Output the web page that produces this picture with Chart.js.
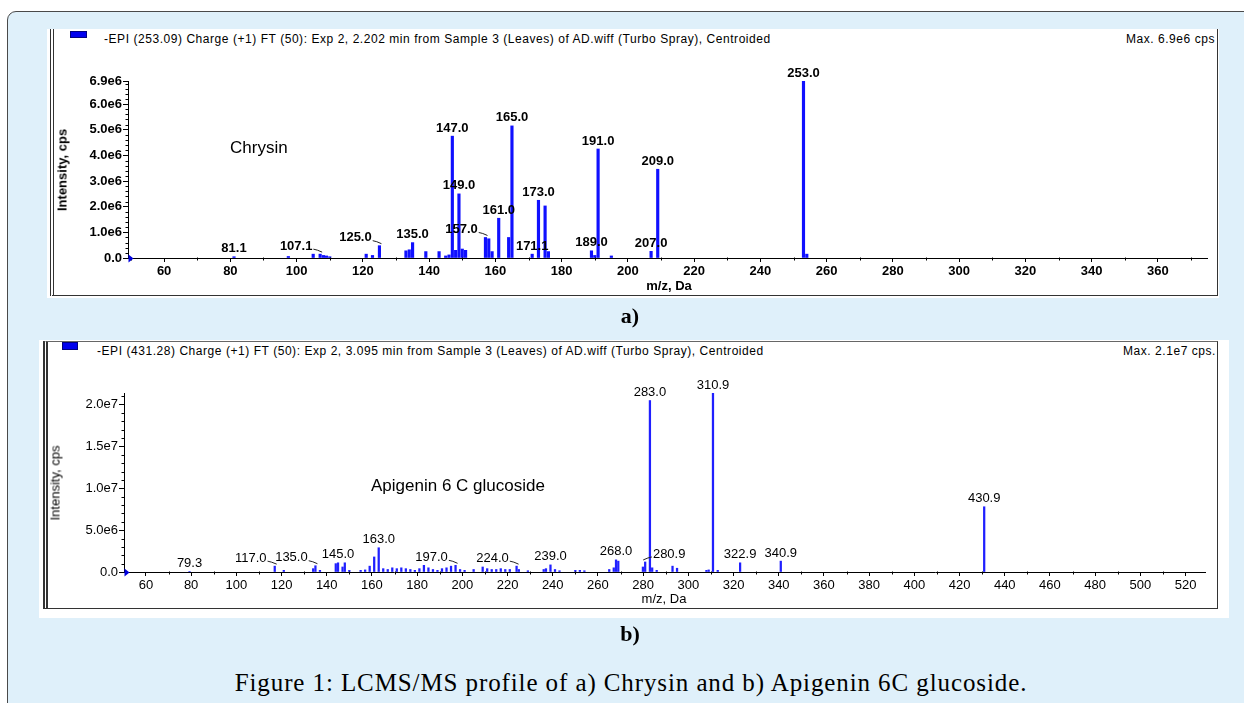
<!DOCTYPE html>
<html>
<head>
<meta charset="utf-8">
<script src="https://cdn.jsdelivr.net/npm/chart.js@4.4.0/dist/chart.umd.min.js"></script>
<style>
html, body { margin: 0; padding: 0; background: #fff; }
body { width: 1244px; height: 703px; position: relative; overflow: hidden; font-family: "Liberation Sans", Arial, sans-serif; color: #000; }
#page { position: absolute; left: 7px; top: 11px; width: 1260px; height: 720px; background: #dff0fa; border: 1.5px solid #4a4a4a; border-radius: 9px; }
.white { position: absolute; background: #fff; }
.frame { position: absolute; box-sizing: border-box; }
#frameA { left: 50px; top: 29px; width: 1168px; height: 267px; border-left: 4px double #333; border-right: 1px solid #333; border-bottom: 1px solid #333; }
#frameB { left: 43px; top: 341px; width: 1175px; height: 268px; border-left: 5px double #333; border-top: 1px solid #666; border-right: 1px solid #333; border-bottom: 1.5px solid #333; }
canvas { position: absolute; }
.txt { position: absolute; white-space: nowrap; }
.hdr { font-size: 12px; line-height: 14px; letter-spacing: 0.55px; }
.sq { position: absolute; box-sizing: border-box; background: #0000ee; border: 1px solid #000080; }
.big { font-size: 17px; line-height: 20px; }
.ax { font-size: 13px; line-height: 15px; transform: translate(-50%, -50%); }
.rot { font-size: 13px; line-height: 15px; transform: translate(-50%, -50%) rotate(-90deg); }
.b { font-weight: bold; }
.serif { font-family: "Liberation Serif", "Times New Roman", serif; transform: translate(-50%, -50%); }
</style>
</head>
<body>
<div id="page"></div>

<!-- panel a -->
<div class="white" style="left:47px;top:29px;width:1172px;height:269px;"></div>
<div class="frame" id="frameA"></div>
<div class="sq" style="left:70px;top:31px;width:17px;height:7px;"></div>
<div class="txt hdr" style="left:104px;top:32px;">-EPI (253.09) Charge (+1) FT (50): Exp 2, 2.202 min from Sample 3 (Leaves) of AD.wiff (Turbo Spray), Centroided</div>
<div class="txt hdr" style="right:29px;top:32px;">Max. 6.9e6 cps</div>
<canvas id="chartA" width="1160" height="250" style="left:56px;top:44px;"></canvas>
<div class="txt big" style="left:230px;top:138px;">Chrysin</div>
<div class="txt rot b" style="left:62px;top:170px;">Intensity, cps</div>
<div class="txt ax b" style="left:669px;top:285px;">m/z, Da</div>
<div class="txt serif" style="left:630px;top:316px;font-size:22px;font-weight:bold;">a)</div>

<!-- panel b -->
<div class="white" style="left:39px;top:340px;width:1190px;height:278px;"></div>
<div class="frame" id="frameB"></div>
<div class="sq" style="left:62px;top:342px;width:16px;height:8px;"></div>
<div class="txt hdr" style="left:97px;top:344px;">-EPI (431.28) Charge (+1) FT (50): Exp 2, 3.095 min from Sample 3 (Leaves) of AD.wiff (Turbo Spray), Centroided</div>
<div class="txt hdr" style="right:28px;top:344px;">Max. 2.1e7 cps.</div>
<canvas id="chartB" width="1166" height="251" style="left:49px;top:356px;"></canvas>
<div class="txt big" style="left:371px;top:476px;">Apigenin 6 C glucoside</div>
<div class="txt rot" style="left:55px;top:483px;">Intensity, cps</div>
<div class="txt ax" style="left:664px;top:598px;">m/z, Da</div>
<div class="txt serif" style="left:630px;top:634px;font-size:22px;font-weight:bold;">b)</div>

<div class="txt serif" style="left:631px;top:683px;font-size:25px;letter-spacing:0.9px;">Figure 1: LCMS/MS profile of a) Chrysin and b) Apigenin 6C glucoside.</div>

<script>
// ------------------------------------------------------------
// Data : a) Chrysin
// ------------------------------------------------------------
const mzA = [81.1, 97.5, 105.0, 107.1, 108.1, 109.0, 110.0, 121.0, 122.9, 125.0,
             133.0, 134.0, 135.0, 139.0, 143.0, 145.0, 146.0, 147.0, 148.0, 149.0,
             150.0, 151.0, 157.0, 158.0, 159.0, 161.0, 164.0, 165.0, 171.1, 173.0,
             175.0, 176.0, 189.0, 190.0, 191.0, 195.0, 207.0, 209.0, 253.0, 254.0];
const intA = [0.05e6, 0.06e6, 0.15e6, 0.15e6, 0.1e6, 0.08e6, 0.05e6, 0.15e6, 0.1e6, 0.48e6,
              0.28e6, 0.32e6, 0.6e6, 0.25e6, 0.25e6, 0.08e6, 0.12e6, 4.75e6, 0.3e6, 2.5e6,
              0.35e6, 0.3e6, 0.8e6, 0.75e6, 0.25e6, 1.55e6, 0.8e6, 5.15e6, 0.15e6, 2.25e6,
              2.03e6, 0.25e6, 0.28e6, 0.1e6, 4.25e6, 0.08e6, 0.26e6, 3.46e6, 6.9e6, 0.15e6];
const peakLabelsA = ["81.1", "107.1", "125.0", "135.0", "147.0", "149.0", "157.0", "161.0",
                     "165.0", "171.1", "173.0", "189.0", "191.0", "207.0", "209.0", "253.0"];
const xTicksA = [60, 80, 100, 120, 140, 160, 180, 200, 220, 240, 260, 280, 300, 320, 340, 360];
const yTicksA = [0, 1e6, 2e6, 3e6, 4e6, 5e6, 6e6, 6.9e6];

// ------------------------------------------------------------
// Data : b) Apigenin 6 C glucoside
// ------------------------------------------------------------
const mzB = [79.3, 117.0, 121.0, 134.0, 135.0, 137.0, 144.0, 145.0, 147.0, 148.0,
             150.0, 155.0, 157.0, 159.0, 161.0, 163.0, 165.0, 167.0, 169.0, 171.0,
             173.0, 175.0, 177.0, 179.0, 181.0, 183.0, 185.0, 187.0, 189.0, 191.0,
             193.0, 195.0, 197.0, 199.0, 201.0, 205.0, 209.0, 211.0, 213.0, 215.0,
             217.0, 219.0, 221.0, 224.0, 225.0, 229.0, 236.0, 237.0, 239.0, 241.0,
             243.0, 250.0, 252.0, 254.0, 265.0, 267.0, 268.0, 269.0, 279.9, 280.9,
             283.0, 284.0, 286.0, 293.0, 295.0, 308.0, 309.0, 310.9, 313.0, 322.9,
             340.9, 430.9];
const intB = [0.05e6, 0.7e6, 0.2e6, 0.4e6, 0.75e6, 0.2e6, 1.0e6, 1.1e6, 0.6e6, 1.1e6,
              0.2e6, 0.2e6, 0.25e6, 0.7e6, 1.8e6, 2.9e6, 0.4e6, 0.3e6, 0.5e6, 0.4e6,
              0.5e6, 0.4e6, 0.3e6, 0.2e6, 0.4e6, 0.8e6, 0.5e6, 0.3e6, 0.2e6, 0.4e6,
              0.5e6, 0.7e6, 0.8e6, 0.3e6, 0.2e6, 0.3e6, 0.6e6, 0.4e6, 0.3e6, 0.3e6,
              0.4e6, 0.3e6, 0.3e6, 0.7e6, 0.3e6, 0.15e6, 0.3e6, 0.4e6, 0.85e6, 0.3e6,
              0.15e6, 0.2e6, 0.2e6, 0.15e6, 0.3e6, 0.5e6, 1.45e6, 1.3e6, 0.6e6, 1.2e6,
              20.5e6, 0.5e6, 0.2e6, 0.7e6, 0.45e6, 0.2e6, 0.25e6, 21.4e6, 0.2e6, 1.1e6,
              1.3e6, 7.8e6];
const peakLabelsB = ["79.3", "117.0", "135.0", "145.0", "163.0", "197.0", "224.0", "239.0",
                     "268.0", "280.9", "283.0", "310.9", "322.9", "340.9", "430.9"];
const xTicksB = [60, 80, 100, 120, 140, 160, 180, 200, 220, 240, 260, 280, 300, 320, 340,
                 360, 380, 400, 420, 440, 460, 480, 500, 520];
const yTicksB = [0, 5e6, 1e7, 1.5e7, 2e7];

// labels pushed aside with a small leader line (-1 left, +1 right)
const leaderSideA = { "107.1": -1, "125.0": -1, "157.0": -1 };
const leaderSideB = { "117.0": -1, "135.0": -1, "197.0": -1, "224.0": -1, "280.9": 1 };

const FONT = '"Liberation Sans", Arial, sans-serif';

function fmtIntensity(v) {
    if (v === 0) return "0.0";
    const e = Math.floor(Math.log10(v) + 1e-9);
    return (v / Math.pow(10, e)).toFixed(1) + "e" + e;
}

// ------------------------------------------------------------
// Plugin : minor ticks, origin marker, peak labels
// ------------------------------------------------------------
const spectrumPlugin = {
    id: "spectrum",
    afterDatasetsDraw(chart, args, o) {
        const { ctx, scales: { x, y } } = chart;
        const pts = chart.data.datasets[0].data;
        ctx.save();
        ctx.font = o.labelFont;
        ctx.fillStyle = "#000";
        ctx.strokeStyle = "#222";
        ctx.lineWidth = 1;
        ctx.textAlign = "center";
        ctx.textBaseline = "middle";
        o.labels.forEach(lbl => {
            const m = parseFloat(lbl);
            let best = pts[0];
            pts.forEach(p => { if (Math.abs(p.x - m) < Math.abs(best.x - m)) best = p; });
            const bx = x.getPixelForValue(best.x);
            const by = y.getPixelForValue(best.y);
            const side = o.leaders[lbl] || 0;
            const lx = bx + side * 24;
            const ly = by - 8;
            ctx.fillText(lbl, lx, ly);
            if (side) {
                const w = ctx.measureText(lbl).width;
                const sx = lx - side * (w / 2 + 1);
                ctx.beginPath();
                ctx.moveTo(sx, ly + 3);
                ctx.lineTo(sx - side * 4, ly + 4);
                ctx.lineTo(bx - side * 2, by - 2);
                ctx.stroke();
            }
        });
        ctx.restore();
    },
    afterDraw(chart, args, o) {
        const { ctx, scales: { x, y } } = chart;
        const y0 = Math.round(y.getPixelForValue(0)) + 0.5;
        const x0 = Math.round(x.left) + 0.5;
        ctx.save();
        ctx.strokeStyle = "#000";
        ctx.lineWidth = 1;
        // minor x ticks
        const kx0 = Math.ceil(x.min / o.minorX), kx1 = Math.floor(x.max / o.minorX);
        for (let k = kx0; k <= kx1; k++) {
            const v = k * o.minorX;
            if (v % o.majorX === 0) continue;
            const px = Math.round(x.getPixelForValue(v)) + 0.5;
            ctx.beginPath(); ctx.moveTo(px, y0 - 1); ctx.lineTo(px, y0 + 2); ctx.stroke();
        }
        // minor y ticks
        const ky1 = Math.floor(y.max / o.minorY + 1e-9);
        for (let k = 1; k <= ky1; k++) {
            if (k % o.minorPerMajor === 0) continue;
            const py = Math.round(y.getPixelForValue(k * o.minorY)) + 0.5;
            ctx.beginPath(); ctx.moveTo(x0 - 3, py); ctx.lineTo(x0, py); ctx.stroke();
        }
        // origin marker
        ctx.fillStyle = "#0000dd";
        ctx.beginPath();
        ctx.moveTo(x0, y0 - 4); ctx.lineTo(x0 + 5, y0); ctx.lineTo(x0, y0 + 4);
        ctx.closePath(); ctx.fill();
        ctx.restore();
    }
};

// ------------------------------------------------------------
// Chart factory
// ------------------------------------------------------------
function makeSpectrum(id, mz, inten, xMin, xMax, yMax, xTicks, yTicks, cfg) {
    const ctx = document.getElementById(id).getContext("2d");
    return new Chart(ctx, {
        type: "bar",
        data: {
            datasets: [{
                data: mz.map((m, i) => ({ x: m, y: inten[i] })),
                backgroundColor: cfg.barColor,
                borderWidth: 0,
                barThickness: cfg.barWidth
            }]
        },
        options: {
            responsive: false,
            animation: false,
            devicePixelRatio: 1,
            layout: { padding: cfg.padding },
            plugins: {
                legend: { display: false },
                tooltip: { enabled: false },
                spectrum: {
                    labels: cfg.labels,
                    leaders: cfg.leaders,
                    labelFont: cfg.labelFont,
                    minorX: 10, majorX: 20,
                    minorY: cfg.minorY, minorPerMajor: cfg.minorPerMajor
                }
            },
            scales: {
                x: {
                    type: "linear",
                    min: xMin, max: xMax,
                    offset: false,
                    afterFit: s => { s.height = cfg.xAxisHeight; },
                    afterBuildTicks: s => { s.ticks = xTicks.map(v => ({ value: v })); },
                    grid: { display: true, drawOnChartArea: false, offset: false, tickLength: 4, color: "#000" },
                    border: { display: true, color: "#000", width: 1 },
                    ticks: {
                        autoSkip: false, maxRotation: 0, padding: 2,
                        color: "#000", font: { family: FONT, size: 13, weight: cfg.tickWeight },
                        callback: v => String(v)
                    }
                },
                y: {
                    min: 0, max: yMax,
                    afterFit: s => { s.width = cfg.yAxisWidth; },
                    afterBuildTicks: s => { s.ticks = yTicks.map(v => ({ value: v })); },
                    grid: { display: true, drawOnChartArea: false, tickLength: 5, color: "#000" },
                    border: { display: true, color: "#000", width: 1 },
                    ticks: {
                        autoSkip: false, padding: 1,
                        color: "#000", font: { family: FONT, size: 13, weight: cfg.tickWeight },
                        callback: v => fmtIntensity(v)
                    }
                }
            }
        },
        plugins: [spectrumPlugin]
    });
}

makeSpectrum("chartA", mzA, intA, 49.1, 374.8, 6.9e6, xTicksA, yTicksA, {
    barColor: "#1010ff", barWidth: 2.5,
    padding: { top: 37, right: 9, bottom: 0, left: 0 },
    xAxisHeight: 36, yAxisWidth: 72,
    labels: peakLabelsA, leaders: leaderSideA,
    labelFont: "bold 13px " + FONT, tickWeight: "bold",
    minorY: 0.2e6, minorPerMajor: 5
});

makeSpectrum("chartB", mzB, intB, 50.3, 528.6, 2.14e7, xTicksB, yTicksB, {
    barColor: "#2020ff", barWidth: 1.6,
    padding: { top: 37, right: 10, bottom: 0, left: 0 },
    xAxisHeight: 35, yAxisWidth: 75,
    labels: peakLabelsB, leaders: leaderSideB,
    labelFont: "13px " + FONT, tickWeight: "normal",
    minorY: 1e6, minorPerMajor: 5
});
</script>
</body>
</html>
